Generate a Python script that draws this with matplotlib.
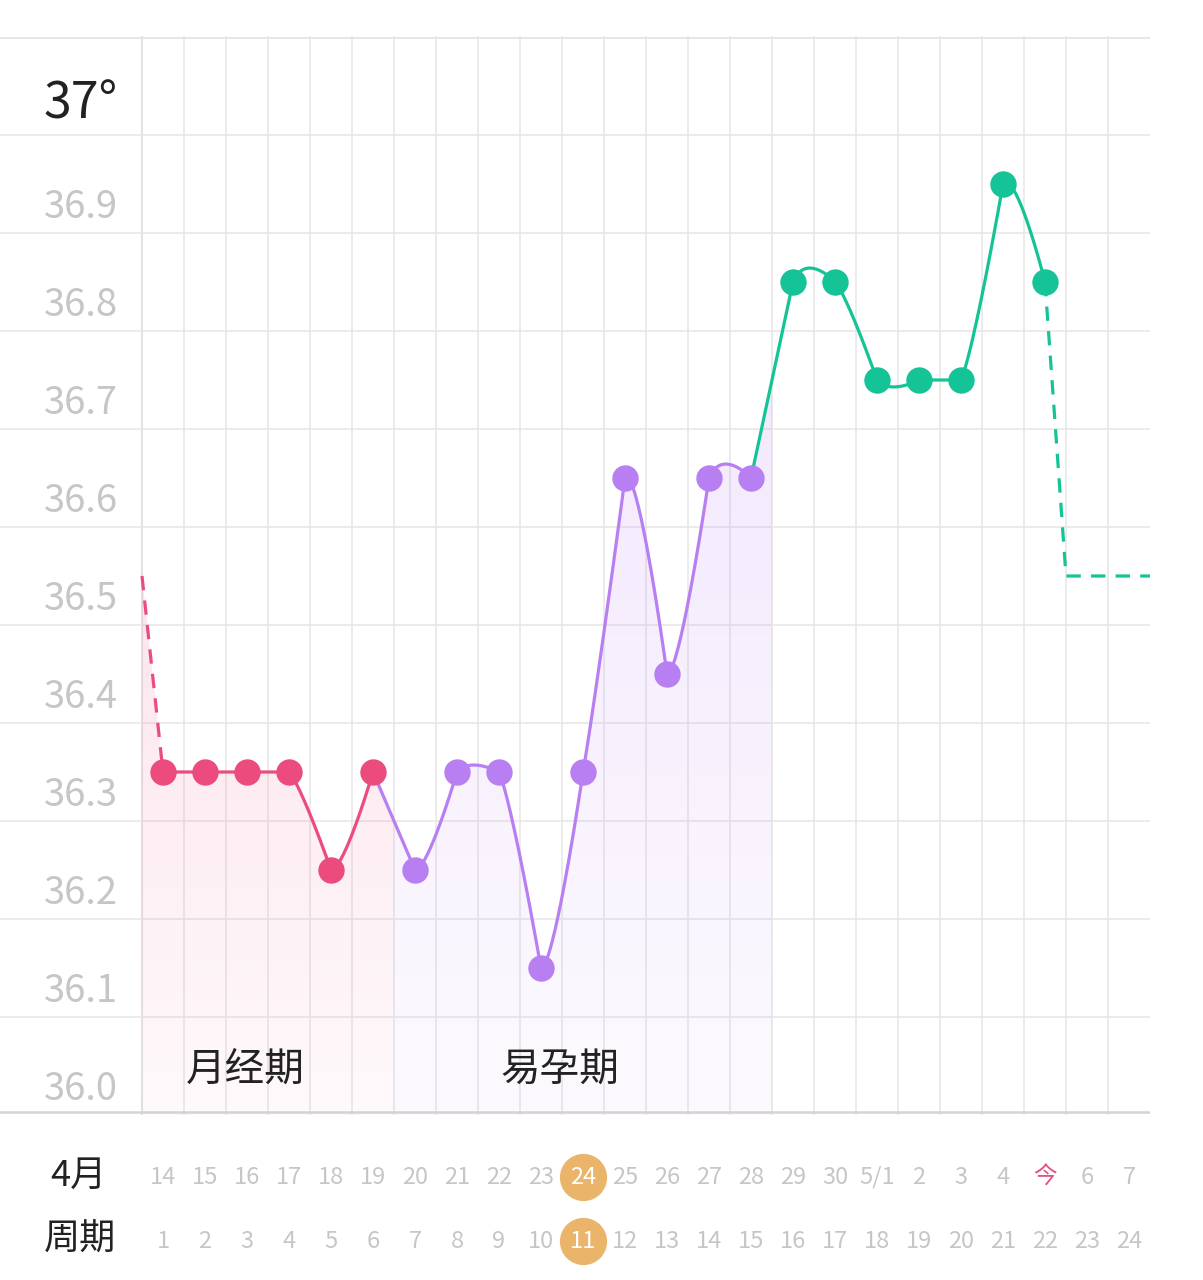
import matplotlib
matplotlib.use("Agg")
import matplotlib.pyplot as plt
import matplotlib.transforms as mtransforms
from matplotlib.patches import Polygon
from matplotlib.colors import to_rgb
import numpy as np

plt.rcParams['font.family'] = ['Noto Sans CJK SC', 'DejaVu Sans']

# ---- data ----
dates = ['14', '15', '16', '17', '18', '19', '20', '21', '22', '23', '24', '25',
         '26', '27', '28', '29', '30', '5/1', '2', '3', '4', '今', '6', '7']
cycle_days = [str(d) for d in range(1, 25)]
temps = [36.3, 36.3, 36.3, 36.3, 36.2, 36.3, 36.2, 36.3, 36.3, 36.1, 36.3,
         36.6, 36.4, 36.6, 36.6, 36.8, 36.8, 36.7, 36.7, 36.7, 36.9, 36.8]
lead_in_temp = 36.5      # dashed line coming in from the left edge
predicted_temp = 36.5    # dashed prediction after today
y_labels = ['36.0', '36.1', '36.2', '36.3', '36.4', '36.5', '36.6', '36.7', '36.8', '36.9']
period_end = 5      # last index of 月经期
fertile_end = 14    # last index of 易孕期
today_idx = 21
highlight_idx = 10
phase_names = ['月经期', '易孕期']

pink = '#ec4b7d'
purple = '#b77ff2'
green = '#14c497'
orange = '#eab46b'
grid_c = '#e6e6e6'
label_c = '#c6c6c6'


def smooth(xs, ys, s=0.16, n=40):
    # bezier segments, control point only on the leaving side
    P = np.column_stack([xs, ys]).astype(float)
    t = np.linspace(0, 1, n)[:, None]
    out = []
    for i in range(len(P) - 1):
        prev = P[i - 1] if i > 0 else P[i]
        a = P[i]
        b = P[i] + s * (P[i + 1] - prev)
        c = P[i + 1]
        d = P[i + 1]
        seg = (1 - t) ** 3 * a + 3 * (1 - t) ** 2 * t * b + 3 * (1 - t) * t ** 2 * c + t ** 3 * d
        out.append(seg if i == 0 else seg[1:])
    return np.vstack(out)


fig = plt.figure(figsize=(12.03, 12.80), dpi=100)
ax = fig.add_axes([0, 165 / 1280, 1150 / 1203, 1079 / 1280])
x0 = -0.5 - 142 / 42
ax.set_xlim(x0, 23.5)
ax.set_ylim(35.95, 37.051)
ax.axis('off')

x = np.arange(len(temps))
t = np.array(temps)

# grid
for xv in np.arange(-0.5, 23, 1):
    ax.plot([xv, xv], [35.95, 37.05], color='#d9d9d9' if xv == -0.5 else grid_c,
            lw=1.1, zorder=1)
for yv in np.arange(36.05, 37.0, 0.1):
    ax.axhline(yv, color=grid_c, lw=1.1, zorder=1)
ax.axhline(37.049, color=grid_c, lw=1.4, zorder=1)
ax.axhline(35.953, color='#d4d4d4', lw=1.8, zorder=1)

# curves per phase
c_pink = smooth(x[:period_end + 1], t[:period_end + 1])
c_purple = smooth(x[period_end:fertile_end + 1], t[period_end:fertile_end + 1])
c_green = smooth(x[fertile_end:], t[fertile_end:])

full = np.vstack([[[-0.5, lead_in_temp]], c_pink, c_purple[1:], c_green[1:]])


def grad_fill(xa, xb, color, a_top, a_bot):
    m = (full[:, 0] > xa) & (full[:, 0] < xb)
    ya = np.interp(xa, full[:, 0], full[:, 1])
    yb = np.interp(xb, full[:, 0], full[:, 1])
    pts = np.vstack([[[xa, 35.95], [xa, ya]], full[m], [[xb, yb], [xb, 35.95]]])
    ytop = pts[:, 1].max()
    rgb = to_rgb(color)
    h = 200
    img = np.zeros((h, 2, 4))
    img[..., :3] = rgb
    img[..., 3] = np.linspace(a_bot, a_top, h)[:, None]
    im = ax.imshow(img, extent=[xa, xb, 35.95, ytop], origin='lower',
                   aspect='auto', zorder=2, interpolation='bilinear')
    poly = Polygon(pts, closed=True, facecolor='none', edgecolor='none')
    ax.add_patch(poly)
    im.set_clip_path(poly)


grad_fill(-0.5, period_end + 0.5, '#f48bb0', 0.22, 0.05)
grad_fill(period_end + 0.5, fertile_end + 0.5, '#c99af5', 0.22, 0.05)
ax.set_xlim(x0, 23.5)
ax.set_ylim(35.95, 37.051)

lw = 2.3
dash = (0, (4.5, 3.2))
ax.plot([-0.5, 0], [lead_in_temp, t[0]], color=pink, lw=lw, ls=dash, zorder=3)
ax.plot(c_pink[:, 0], c_pink[:, 1], color=pink, lw=lw, zorder=3)
ax.plot(c_purple[:, 0], c_purple[:, 1], color=purple, lw=lw, zorder=3)
ax.plot(c_green[:, 0], c_green[:, 1], color=green, lw=lw, zorder=3)
ax.plot([today_idx, today_idx + 0.5, 23.5],
        [t[today_idx], predicted_temp, predicted_temp],
        color=green, lw=lw, ls=dash, zorder=3)

ms = 19
ax.plot(x[:period_end + 1], t[:period_end + 1], 'o', color=pink, ms=ms, mew=0, zorder=4)
ax.plot(x[period_end + 1:fertile_end + 1], t[period_end + 1:fertile_end + 1], 'o',
        color=purple, ms=ms, mew=0, zorder=4)
ax.plot(x[fertile_end + 1:], t[fertile_end + 1:], 'o', color=green, ms=ms, mew=0, zorder=4)

# y labels
lab_x = -0.5 + (118 - 142) / 42
for lab in y_labels:
    ax.text(lab_x, float(lab) - 0.024, lab, ha='right', va='center',
            fontsize=27.5, color=label_c, zorder=5)
ax.text(lab_x, 36.981, '37°', ha='right', va='center', fontsize=36,
        color='#222222', zorder=5)

# phase names
ax.text(1.95, 35.996, phase_names[0], ha='center', va='center', fontsize=28.5,
        color='#222222', zorder=5)
ax.text(9.45, 35.996, phase_names[1], ha='center', va='center', fontsize=28.5,
        color='#222222', zorder=5)

# bottom rows
tr = mtransforms.blended_transform_factory(ax.transData, fig.transFigure)
row1 = (1280 - 1177) / 1280
row2 = (1280 - 1241) / 1280
ax.text(-0.5 + (78 - 142) / 42, row1 + 0.001, '4月', transform=tr, ha='center',
        va='center', fontsize=26, color='#222222', clip_on=False)
ax.text(-0.5 + (80 - 142) / 42, row2 + 0.001, '周期', transform=tr, ha='center',
        va='center', fontsize=26, color='#222222', clip_on=False)
for i, (d, c) in enumerate(zip(dates, cycle_days)):
    col1, col2 = label_c, label_c
    if i == highlight_idx:
        for r in (row1, row2):
            ax.plot([i], [r], 'o', transform=tr, ms=34, color=orange, mew=0,
                    clip_on=False, zorder=5)
        col1, col2 = 'white', 'white'
    if i == today_idx:
        col1 = '#e2517f'
    ax.text(i, row1, d, transform=tr, ha='center', va='center', fontsize=17,
            color=col1, clip_on=False, zorder=6)
    ax.text(i, row2, c, transform=tr, ha='center', va='center', fontsize=17,
            color=col2, clip_on=False, zorder=6)

fig.savefig('out.png', dpi=100, facecolor='white')
